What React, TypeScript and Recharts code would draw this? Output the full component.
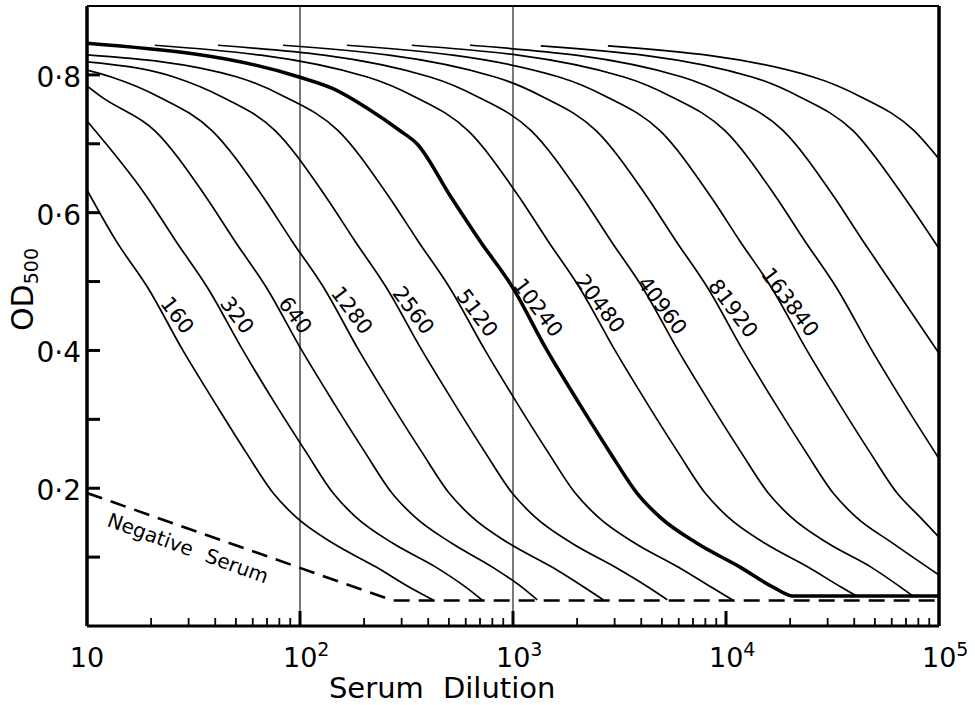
import React from 'react';
import { LineChart, Line, XAxis, YAxis, ReferenceLine, ReferenceDot } from 'recharts';

type Pt = [number, number];

// [serum dilution, OD500], one array per titre
const t160: Pt[] = [[10, 0.633], [13.7, 0.559], [19.4, 0.49], [28.2, 0.4], [40.4, 0.321], [55.8, 0.252], [74.8, 0.193], [95.9, 0.158], [143, 0.12], [228, 0.0855], [325, 0.0565], [420, 0.038]];
const t320: Pt[] = [[10, 0.733], [18.9, 0.625], [26.1, 0.559], [37, 0.49], [54, 0.4], [77.1, 0.321], [107, 0.252], [143, 0.193], [183, 0.158], [273, 0.12], [434, 0.0855], [600, 0.0565], [715, 0.038]];
const t640: Pt[] = [[10, 0.784], [11.7, 0.768], [20.8, 0.719], [35.8, 0.625], [49.4, 0.559], [70, 0.49], [102, 0.4], [146, 0.321], [202, 0.252], [270, 0.193], [347, 0.158], [516, 0.12], [800, 0.0855], [1100, 0.0565], [1300, 0.038]];
const t1280: Pt[] = [[10, 0.807], [13, 0.797], [21.8, 0.768], [38.6, 0.719], [66.4, 0.625], [91.6, 0.559], [130, 0.49], [189, 0.4], [270, 0.321], [374, 0.252], [501, 0.193], [643, 0.158], [957, 0.12], [1524, 0.0855], [2150, 0.0565], [2650, 0.038]];
const t2560: Pt[] = [[10, 0.819], [25.6, 0.797], [43.1, 0.768], [76.4, 0.719], [131, 0.625], [181, 0.559], [256, 0.49], [374, 0.4], [535, 0.321], [740, 0.252], [991, 0.193], [1271, 0.158], [1892, 0.12], [3013, 0.0855], [4305, 0.0565], [5300, 0.038]];
const t5120: Pt[] = [[10, 0.829], [50.7, 0.797], [85.1, 0.768], [151, 0.719], [259, 0.625], [358, 0.559], [507, 0.49], [740, 0.4], [1057, 0.321], [1462, 0.252], [1959, 0.193], [2512, 0.158], [3741, 0.12], [5957, 0.0855], [8511, 0.0565], [10700, 0.038]];
const t10240: Pt[] = [[10, 0.846], [99, 0.797], [143, 0.78], [206, 0.752], [295, 0.719], [354, 0.7], [506, 0.625], [700, 0.559], [989, 0.493], [1445, 0.4], [2064, 0.321], [2852, 0.252], [3818, 0.193], [4898, 0.158], [7310, 0.12], [11640, 0.0855], [16630, 0.0565], [20650, 0.0435], [100000, 0.0435]];
const t20480: Pt[] = [[20.8, 0.843], [207, 0.797], [347, 0.768], [615, 0.719], [1057, 0.625], [1459, 0.559], [2065, 0.49], [3013, 0.4], [4305, 0.321], [5957, 0.252], [7980, 0.193], [10230, 0.158], [15240, 0.12], [24270, 0.0855], [34670, 0.0565], [41000, 0.0435]];
const t40960: Pt[] = [[41.2, 0.843], [408, 0.797], [685, 0.768], [1216, 0.719], [2089, 0.625], [2884, 0.559], [4083, 0.49], [5957, 0.4], [8511, 0.321], [11780, 0.252], [15780, 0.193], [20230, 0.158], [30130, 0.12], [47970, 0.0855], [66000, 0.0565], [75500, 0.0435]];
const t81920: Pt[] = [[83.2, 0.843], [824, 0.797], [1384, 0.768], [2455, 0.719], [4217, 0.625], [5821, 0.559], [8241, 0.49], [12020, 0.4], [17180, 0.321], [23770, 0.252], [31840, 0.193], [40830, 0.158], [60810, 0.12], [100000, 0.074]];
const t163840: Pt[] = [[166, 0.843], [1644, 0.797], [2761, 0.768], [4898, 0.719], [8414, 0.625], [11610, 0.559], [16440, 0.49], [23990, 0.4], [34280, 0.321], [47430, 0.252], [63530, 0.193], [81470, 0.158], [100000, 0.129]];
const t327680: Pt[] = [[335, 0.843], [3319, 0.797], [5572, 0.768], [9886, 0.719], [16980, 0.625], [23440, 0.559], [33190, 0.49], [48420, 0.4], [69180, 0.321], [100000, 0.243]];
const t655360: Pt[] = [[628, 0.843], [6223, 0.797], [10440, 0.768], [18540, 0.719], [31840, 0.625], [43950, 0.559], [62230, 0.49], [100000, 0.396]];
const t1310720: Pt[] = [[1350, 0.842], [13240, 0.797], [22230, 0.768], [39450, 0.719], [67760, 0.625], [100000, 0.548]];
const t2621440: Pt[] = [[2790, 0.842], [25640, 0.797], [43050, 0.768], [76380, 0.719], [100000, 0.678]];
const negativeSerum: Pt[] = [[10, 0.193], [273, 0.037], [100000, 0.037]];

const curves = [t160, t320, t640, t1280, t2560, t5120, t10240, t20480, t40960, t81920, t163840, t327680, t655360, t1310720, t2621440];
// only the first eleven curves carry a titre label
const titres = ['160', '320', '640', '1280', '2560', '5120', '10240', '20480', '40960', '81920', '163840'];
const titreLabelAt: Pt[] = [[26.5, 0.451], [50.6, 0.451], [94.9, 0.451], [175, 0.458], [340, 0.458], [678, 0.454], [1310, 0.462], [2560, 0.468], [5010, 0.465], [10790, 0.461], [19950, 0.47]];
const negLabelAt: Pt = [29.8, 0.113];

const decades = [10, 100, 1000, 10000];
const xTicks = [...decades.flatMap((d) => [1, 2, 3, 4, 5, 6, 7, 8, 9].map((m) => d * m)), 100000];
const xExponent: Record<number, string> = { 100: '2', 1000: '3', 10000: '4', 100000: '5' };
const yTicks = [0.1, 0.2, 0.3, 0.4, 0.5, 0.6, 0.7, 0.8];
const yLabels: Record<string, string> = { '0.2': '0·2', '0.4': '0·4', '0.6': '0·6', '0.8': '0·8' };

const FONT = 'DejaVu Sans';
const toRows = (pts: Pt[]) => pts.map(([d, od]) => ({ d, od }));

const XTick = (props: any) => {
  const { x, y, payload } = props;
  const v = Number(payload.value);
  const major = xExponent[v] !== undefined;
  const inner = v > 10 && v < 100000;
  return (
    <g>
      {inner && (
        <path d={`M${x},${y - 1}V${y - (major ? 15 : 8)}`} stroke="#000" strokeWidth={major ? 3 : 1.8} fill="none" />
      )}
      {v === 10 && (
        <text x={x} y={y + 41} textAnchor="middle" fontSize={27} fontFamily={FONT} fill="#000">10</text>
      )}
      {major && (
        <text x={x - 17} y={y + 41} fontSize={27} fontFamily={FONT} fill="#000">
          10<tspan dy={-11} fontSize={19}>{xExponent[v]}</tspan>
        </text>
      )}
    </g>
  );
};

const YTick = (props: any) => {
  const { x, y, payload } = props;
  const lbl = yLabels[String(payload.value)];
  return (
    <g>
      <line x1={x} x2={x + 13} y1={y} y2={y} stroke="#000" strokeWidth={3} />
      {lbl && (
        <text x={x - 6} y={y + 12} textAnchor="end" fontSize={28} fontFamily={FONT} fill="#000">{lbl}</text>
      )}
    </g>
  );
};

const rotatedText = (text: string, angle: number, size: number) => (p: any) => (
  <text x={p.cx} y={p.cy} transform={`rotate(${angle} ${p.cx} ${p.cy})`} textAnchor="middle"
    dominantBaseline="central" fontSize={size} fontFamily={FONT} fill="#000" wordSpacing={8}>
    {text}
  </text>
);

export default function App() {
  return (
    <div style={{ position: 'absolute', left: 0, top: 0, width: 975, height: 705, background: '#fff' }}>
      <LineChart width={975} height={705} margin={{ top: 6, right: 36, left: 0, bottom: 0 }}>
        <XAxis
          dataKey="d"
          type="number"
          scale="log"
          domain={[10, 100000]}
          allowDataOverflow
          ticks={xTicks}
          interval={0}
          height={79}
          tickSize={0}
          tickMargin={0}
          tickLine={false}
          axisLine={{ stroke: '#000', strokeWidth: 3 }}
          tick={<XTick />}
          label={{
            content: (p: any) => (
              <text x={p.viewBox.x + p.viewBox.width * 0.284} y={p.viewBox.y + 72} fontSize={29}
                fontFamily={FONT} fill="#000" wordSpacing={10}>Serum Dilution</text>
            ),
          }}
        />
        <YAxis
          type="number"
          domain={[0, 0.9]}
          ticks={yTicks}
          interval={0}
          width={87}
          tickSize={0}
          tickMargin={0}
          tickLine={false}
          axisLine={{ stroke: '#000', strokeWidth: 3.5 }}
          tick={<YTick />}
          label={{
            content: () => (
              <text transform="translate(33 331) rotate(-90)" fontSize={30} fontFamily={FONT} fill="#000">
                OD<tspan dy={5} fontSize={19}>500</tspan>
              </text>
            ),
          }}
        />
        <ReferenceLine x={100} stroke="#222" strokeWidth={1.2} />
        <ReferenceLine x={1000} stroke="#222" strokeWidth={1.2} />
        <ReferenceLine y={0.9} stroke="#000" strokeWidth={2} />
        <ReferenceLine x={100000} stroke="#000" strokeWidth={3.5} />
        <Line
          data={toRows(negativeSerum)}
          dataKey="od"
          stroke="#000"
          strokeWidth={2.6}
          strokeDasharray="16 9"
          dot={false}
          isAnimationActive={false}
        />
        {curves.map((pts, i) => (
          <Line
            key={i}
            type="monotoneX"
            data={toRows(pts)}
            dataKey="od"
            stroke="#000"
            strokeWidth={i === 6 ? 3.6 : 1.7}
            strokeLinejoin="round"
            dot={false}
            isAnimationActive={false}
          />
        ))}
        {titres.map((t, i) => (
          <ReferenceDot key={t} x={titreLabelAt[i][0]} y={titreLabelAt[i][1]} r={0}
            shape={rotatedText(t, 53, 21)} />
        ))}
        <ReferenceDot x={negLabelAt[0]} y={negLabelAt[1]} r={0} shape={rotatedText('Negative Serum', 20, 20)} />
      </LineChart>
    </div>
  );
}
